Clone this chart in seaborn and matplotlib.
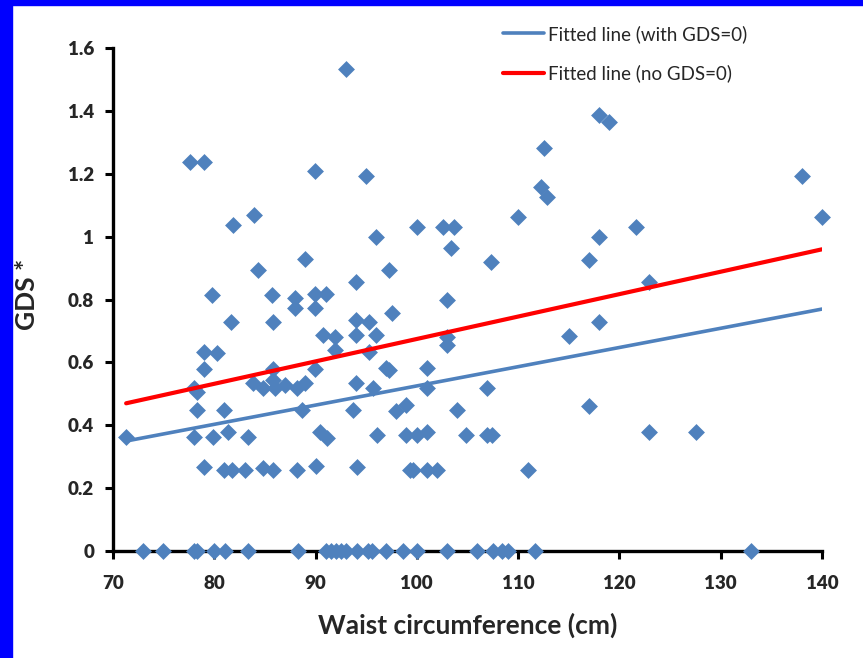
import numpy as np
import pandas as pd
import seaborn as sns
import matplotlib.pyplot as plt
from matplotlib.patches import Rectangle

sns.set_theme(style="white")
plt.rcParams['font.family'] = ['Lato', 'DejaVu Sans']
plt.rcParams['xtick.bottom'] = True
plt.rcParams['ytick.left'] = True

# waist circumference (cm) and GDS values
waist = [
    # GDS = 0
    73.0, 74.9, 78.0, 78.3, 80.0, 81.1, 83.3, 88.3, 91.0, 91.5, 92.0, 92.5, 93.0,
    94.1, 95.2, 95.6, 97.0, 98.6, 100.0, 103.0, 105.9, 107.5, 108.4, 109.0, 111.7, 133.0,
    # ~0.26
    79.0, 81.0, 81.8, 83.0, 84.8, 85.8, 88.2, 90.0, 94.1, 99.3, 99.6, 101.0, 102.0, 111.0,
    # ~0.37
    71.3, 78.0, 79.9, 81.4, 83.3, 90.4, 91.1, 96.1, 98.9, 100.0, 101.0, 104.9, 106.9, 107.4,
    122.9, 127.6,
    # ~0.45
    78.3, 81.0, 88.7, 93.7, 97.9, 98.9, 104.0, 117.0,
    # ~0.52
    78.0, 78.3, 83.8, 84.8, 85.8, 86.0, 87.0, 88.2, 89.0, 94.0, 95.7, 101.0, 106.9,
    # ~0.58 - 0.63
    79.0, 85.8, 89.9, 97.0, 97.3, 101.0, 79.0, 80.3, 91.9, 95.3,
    # ~0.68 - 0.75
    90.7, 91.9, 94.0, 96.0, 103.0, 103.0, 115.0, 81.7, 85.8, 94.0, 95.3, 97.6, 118.0,
    # ~0.77 - 0.93
    79.8, 85.7, 88.0, 88.0, 89.9, 89.9, 91.0, 103.0, 94.0, 84.3, 97.3, 89.0, 107.3, 117.0, 122.9,
    # ~0.96 - 1.07
    103.4, 96.0, 118.0, 81.9, 83.9, 100.0, 102.6, 103.7, 110.0, 121.6, 140.0,
    # > 1.1
    77.6, 79.0, 89.9, 95.0, 112.3, 112.9, 112.6, 118.0, 119.0, 138.0, 93.0,
]
gds = [
    0, 0, 0, 0, 0, 0, 0, 0, 0, 0, 0, 0, 0,
    0, 0, 0, 0, 0, 0, 0, 0, 0, 0, 0, 0, 0,
    0.268, 0.258, 0.258, 0.258, 0.265, 0.258, 0.258, 0.27, 0.267, 0.258, 0.258, 0.258, 0.258, 0.258,
    0.364, 0.364, 0.364, 0.38, 0.364, 0.38, 0.36, 0.37, 0.37, 0.37, 0.38, 0.37, 0.37, 0.37,
    0.378, 0.378,
    0.45, 0.45, 0.448, 0.45, 0.445, 0.464, 0.448, 0.46,
    0.52, 0.505, 0.534, 0.518, 0.544, 0.518, 0.528, 0.518, 0.534, 0.534, 0.518, 0.518, 0.518,
    0.578, 0.578, 0.578, 0.582, 0.576, 0.582, 0.633, 0.63, 0.64, 0.633,
    0.687, 0.681, 0.687, 0.687, 0.681, 0.655, 0.684, 0.728, 0.728, 0.735, 0.728, 0.757, 0.73,
    0.814, 0.814, 0.805, 0.773, 0.817, 0.773, 0.817, 0.80, 0.856, 0.894, 0.894, 0.929, 0.919, 0.925, 0.856,
    0.964, 1.0, 1.0, 1.037, 1.069, 1.031, 1.031, 1.031, 1.062, 1.03, 1.062,
    1.237, 1.237, 1.209, 1.193, 1.158, 1.126, 1.282, 1.387, 1.365, 1.193, 1.533,
]

# fitted lines (slope, intercept) as shown on the chart
fit_all = (0.00611, -0.0858)
fit_nonzero = (0.00713, -0.0385)
fit_labels = ["Fitted line (with GDS=0)", "Fitted line (no GDS=0)"]

x_ticks = [70, 80, 90, 100, 110, 120, 130, 140]
y_ticks = [0, 0.2, 0.4, 0.6, 0.8, 1.0, 1.2, 1.4, 1.6]

df = pd.DataFrame({"waist": waist, "gds": gds})
x_line = np.array([df.waist.min(), df.waist.max()])

fig = plt.figure(figsize=(8.63, 6.58), dpi=100)
ax = fig.add_axes([0.1309, 0.1626, 0.8215, 0.7644])

sns.scatterplot(data=df, x="waist", y="gds", marker="D", s=74, color="#4F81BD",
                linewidth=0, ax=ax, zorder=3)

sns.lineplot(x=x_line, y=fit_all[0] * x_line + fit_all[1], color="#4F81BD",
             linewidth=2.6, label=fit_labels[0], ax=ax, zorder=4)
sns.lineplot(x=x_line, y=fit_nonzero[0] * x_line + fit_nonzero[1], color="#FF0000",
             linewidth=3.0, label=fit_labels[1], ax=ax, zorder=4)

ax.set_xlim(70, 140)
ax.set_ylim(0, 1.6)
ax.set_xticks(x_ticks, labels=[f"{v:g}" for v in x_ticks])
ax.set_yticks(y_ticks, labels=[f"{v:g}" for v in y_ticks])
ax.tick_params(axis="both", which="major", direction="out", length=5.5, width=2.2,
               color="black", pad=8, left=True, bottom=True)
ax.tick_params(axis="x", pad=12)

for side in ["top", "right"]:
    ax.spines[side].set_visible(False)
for side in ["left", "bottom"]:
    ax.spines[side].set_color("black")
    ax.spines[side].set_linewidth(2.4)
for coll in ax.collections:
    coll.set_clip_on(False)

ax.set_xlabel("Waist circumference (cm)", fontsize=19, fontweight="bold", labelpad=15)
ax.set_ylabel("GDS *", fontsize=19, fontweight="bold")
ax.yaxis.set_label_coords(-0.104, 0.51)

leg = ax.legend(loc="upper left", bbox_to_anchor=(503 / 863, 1 - 25 / 658),
                bbox_transform=fig.transFigure, frameon=False, fontsize=13.5,
                handlelength=2.2, handletextpad=0.2, labelspacing=1.15,
                borderpad=0, borderaxespad=0)

# blue frame on the left and top edges
fig.patches.append(Rectangle((0, 0), 12 / 863, 1, transform=fig.transFigure,
                             color="#0000FF", zorder=10))
fig.patches.append(Rectangle((0, 1 - 5 / 658), 1, 5 / 658, transform=fig.transFigure,
                             color="#0000FF", zorder=10))

fig.canvas.draw()
for lab in ax.get_xticklabels() + ax.get_yticklabels():
    lab.set_fontweight("heavy")
    lab.set_fontsize(13.5)

fig.savefig("out.png", dpi=100, facecolor="white")
